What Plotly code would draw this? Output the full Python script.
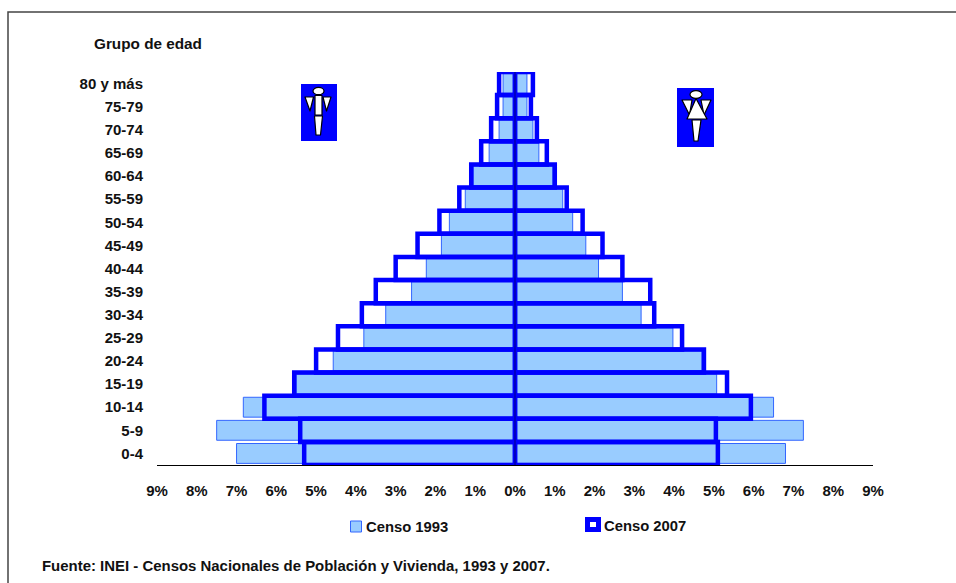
import base64
import plotly.graph_objects as go

W, H = 956, 583
groups = ["0-4","5-9","10-14","15-19","20-24","25-29","30-34","35-39","40-44","45-49","50-54","55-59","60-64","65-69","70-74","75-79","80 y más"]
male_1993 = [7.0,7.5,6.83,5.5,4.57,3.8,3.25,2.6,2.23,1.85,1.65,1.25,1.05,0.65,0.4,0.3,0.3]
male_2007 = [5.3,5.4,6.3,5.55,5.0,4.45,3.85,3.5,3.0,2.45,1.9,1.4,1.1,0.85,0.6,0.45,0.4]
female_1993 = [6.8,7.25,6.5,5.07,4.7,3.97,3.17,2.7,2.1,1.78,1.45,1.2,0.95,0.6,0.45,0.3,0.3]
female_2007 = [5.1,5.05,5.93,5.33,4.75,4.2,3.5,3.4,2.7,2.2,1.7,1.3,1.0,0.8,0.55,0.4,0.45]
tick_vals = list(range(-9, 10))
tick_text = [f"{abs(v)}%" for v in tick_vals]

FONT = "Liberation Sans, Arial, sans-serif"
BLUE = "#0000FF"
LIGHT = "#99CCFF"
EDGE = "#3366FF"

man_svg = """<svg xmlns='http://www.w3.org/2000/svg' viewBox='0 0 36 57'>
<rect width='36' height='57' fill='#0000FF'/>
<g fill='white' stroke='black' stroke-width='1.2' stroke-linejoin='round'>
<ellipse cx='17.5' cy='7' rx='5.5' ry='3.7'/>
<polygon points='4,13 12.5,13 9,27'/><polygon points='22,13 30,13 25.5,27'/>
<rect x='14' y='11.5' width='7' height='19.5'/><polygon points='13.5,32 21.5,32 19.5,51 15,51'/>
</g></svg>"""
woman_svg = """<svg xmlns='http://www.w3.org/2000/svg' viewBox='0 0 37 59'>
<rect width='37' height='59' fill='#0000FF'/>
<g fill='white' stroke='black' stroke-width='1.2' stroke-linejoin='round'>
<ellipse cx='19' cy='6.5' rx='6' ry='3.8'/>
<polygon points='5,12 15,12 12.5,27'/><polygon points='24,12 34,12 27,27'/>
<polygon points='19,10.5 30,31 10,31'/><polygon points='15,32 24,32 21,53 17,53'/>
</g></svg>"""
def uri(s):
    return "data:image/svg+xml;base64," + base64.b64encode(s.encode()).decode()

L, R, T, B = 157, 873, 72, 465
def px(x): return (x - L) / (R - L)
def py(y): return (B - y) / (B - T)

fig = go.Figure()
fig.add_bar(y=groups, x=[-v for v in male_1993], orientation="h", name="Censo 1993", width=0.86,
            marker=dict(color=LIGHT, line=dict(color=EDGE, width=1)), showlegend=False)
fig.add_bar(y=groups, x=female_1993, orientation="h", name="Censo 1993", width=0.86,
            marker=dict(color=LIGHT, line=dict(color=EDGE, width=1)), showlegend=False)
fig.add_bar(y=groups, x=[-v for v in male_2007], orientation="h", name="Censo 2007", width=1,
            marker=dict(color="rgba(0,0,0,0)", line=dict(color=BLUE, width=4.5)), showlegend=False)
fig.add_bar(y=groups, x=female_2007, orientation="h", name="Censo 2007", width=1,
            marker=dict(color="rgba(0,0,0,0)", line=dict(color=BLUE, width=4.5)), showlegend=False)

shapes = [
    dict(type="rect", xref="paper", yref="paper", x0=px(8), x1=px(W + 20), y0=py(12), y1=py(H + 20),
         line=dict(color="#444444", width=1.5), layer="below"),
    dict(type="line", xref="x", yref="paper", x0=0, x1=0, y0=0, y1=py(T),
         line=dict(color="#000080", width=1)),
    dict(type="rect", xref="paper", yref="paper", x0=px(350.5), x1=px(361.5), y0=py(532), y1=py(521),
         fillcolor=LIGHT, line=dict(color=EDGE, width=1)),
    dict(type="rect", xref="paper", yref="paper", x0=px(587.5), x1=px(598.5), y0=py(529.5), y1=py(519.5),
         fillcolor="white", line=dict(color=BLUE, width=5)),
]
annotations = [
    dict(text=t, x=px(x), y=py(y), xref="paper", yref="paper", showarrow=False, xanchor="left", yanchor="middle",
         font=dict(family=FONT, size=s, color="#111111", weight="bold"))
    for t, x, y, s in [("Grupo de edad", 92, 43, 15.3), ("Censo 1993", 364, 527, 14.8),
                       ("Censo 2007", 602, 526, 14.8),
                       ("Fuente: INEI - Censos Nacionales de Población y Vivienda, 1993 y 2007.", 40, 565, 14.95)]
]
images = [
    dict(source=uri(man_svg), xref="paper", yref="paper", x=px(301), y=py(84), sizex=36/(R-L), sizey=57/(B-T),
         xanchor="left", yanchor="top", sizing="stretch", layer="above"),
    dict(source=uri(woman_svg), xref="paper", yref="paper", x=px(677), y=py(88), sizex=37/(R-L), sizey=59/(B-T),
         xanchor="left", yanchor="top", sizing="stretch", layer="above"),
]
fig.update_layout(
    width=W, height=H, autosize=False, barmode="overlay", paper_bgcolor="white", plot_bgcolor="white",
    margin=dict(l=L, r=W-R, t=T, b=H-B), shapes=shapes, annotations=annotations, images=images,
    font=dict(family=FONT, size=15, color="#111111", weight="bold"),
    xaxis=dict(range=[-9, 9], tickvals=tick_vals, ticktext=tick_text, showgrid=False, zeroline=False,
               showline=True, linecolor="black", linewidth=1, ticks="outside", ticklen=12,
               tickcolor="rgba(0,0,0,0)"),
    yaxis=dict(categoryorder="array", categoryarray=groups, range=[-0.5, 16.5], showgrid=False, zeroline=False,
               showline=False, ticks="outside", ticklen=10, tickcolor="rgba(0,0,0,0)"),
)
fig.write_html("out.html", config={"displayModeBar": False},
               post_script="document.body.style.margin='0';document.body.style.overflow='hidden';")
